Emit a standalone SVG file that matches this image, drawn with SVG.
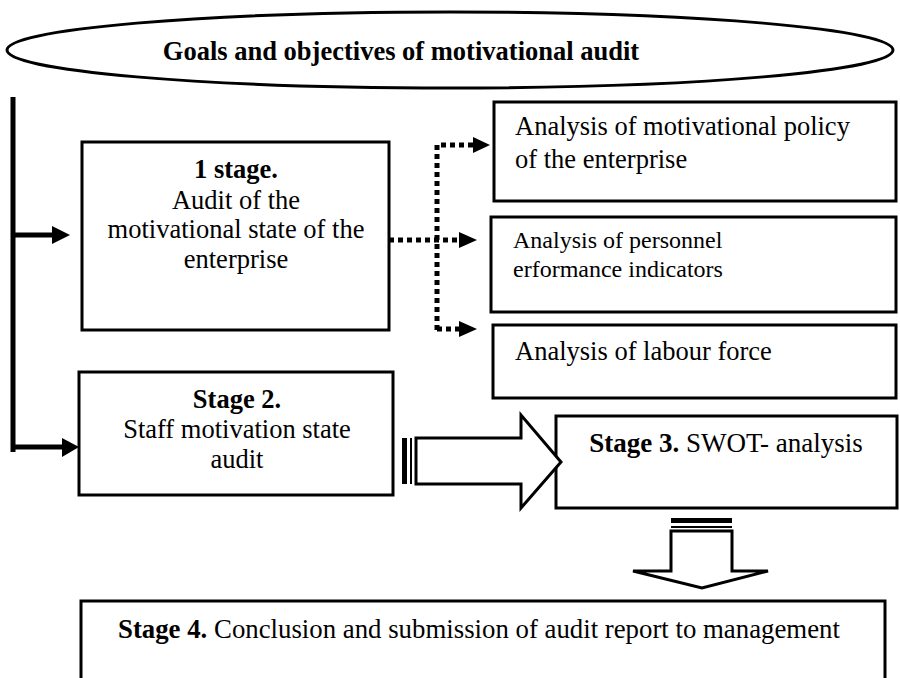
<svg xmlns="http://www.w3.org/2000/svg" width="900" height="678" viewBox="0 0 900 678">
<style>
text{font-family:"Liberation Serif","Times New Roman",serif;font-size:26.5px;fill:#000}
.b{font-weight:bold}
.box{fill:#fff;stroke:#000;stroke-width:3}
.solid{fill:none;stroke:#000;stroke-width:5}
.dot{fill:none;stroke:#000;stroke-width:5;stroke-dasharray:5 4}
.hd{fill:#000;stroke:none}
.blk{fill:#fff;stroke:#000;stroke-width:3;stroke-linejoin:miter}
</style>
<rect width="900" height="678" fill="#fff"/>
<g id="goals">
<ellipse cx="450" cy="50" rx="443" ry="38" fill="#fff" stroke="#000" stroke-width="3"/>
<text class="b" x="401" y="60" text-anchor="middle">Goals and objectives of motivational audit</text>
</g>
<g id="stage1">
<rect class="box" x="82" y="142" width="307" height="188"/>
<text text-anchor="middle" x="236"><tspan class="b" x="236" y="178">1 stage.</tspan><tspan x="236" y="209">Audit of the</tspan><tspan x="236" y="238">motivational state of the</tspan><tspan x="236" y="268">enterprise</tspan></text>
</g>
<g id="policy">
<rect class="box" x="494" y="102" width="402" height="99"/>
<text x="515" y="135">Analysis of motivational policy</text>
<text x="515" y="168">of the enterprise</text>
</g>
<g id="performance">
<rect class="box" x="491" y="217" width="405" height="95"/>
<text x="513" y="248" style="font-size:24px">Analysis of personnel</text>
<text x="513" y="277" style="font-size:24px">erformance indicators</text>
</g>
<g id="labour">
<rect class="box" x="493" y="325" width="403" height="73"/>
<text x="515" y="360">Analysis of labour force</text>
</g>
<g id="stage2">
<rect class="box" x="79" y="372" width="314" height="123"/>
<text text-anchor="middle"><tspan class="b" x="237" y="408">Stage 2.</tspan><tspan x="237" y="438">Staff motivation state</tspan><tspan x="237" y="468">audit</tspan></text>
</g>
<g id="stage3">
<rect class="box" x="556" y="416" width="341" height="92"/>
<text x="726" y="452" text-anchor="middle" style="font-size:27px"><tspan class="b">Stage 3.</tspan> SWOT- analysis</text>
</g>
<g id="stage4">
<rect class="box" x="81" y="601" width="804" height="100"/>
<text x="118" y="638" style="font-size:26.8px"><tspan class="b">Stage 4.</tspan> Conclusion and submission of audit report to management</text>
</g>
<g id="connectors">
<path class="solid" d="M13 97 V452"/>
<path class="solid" d="M13 235 H54"/>
<polygon class="hd" points="52,226 70,235 52,244"/>
<path class="solid" d="M13 447 H64"/>
<polygon class="hd" points="62,438 79,447 62,457"/>
<path class="dot" d="M389 240 H461"/>
<polygon class="hd" points="459,232 477,240 459,248"/>
<path class="dot" d="M437 330 V145 H475"/>
<polygon class="hd" points="473,137 490,145 473,153"/>
<path class="dot" d="M437 329 H461"/>
<polygon class="hd" points="459,321 477,329 459,337"/>
<g id="arrow23">
<rect x="402" y="438" width="5" height="46" fill="#000"/>
<rect x="410" y="438" width="2" height="46" fill="#000"/>
<polygon class="blk" points="416,438 521,438 521,415 561,462 521,508 521,484 416,484"/>
</g>
<g id="arrow34">
<rect x="671" y="518" width="61" height="5" fill="#000"/>
<rect x="671" y="526" width="61" height="2" fill="#000"/>
<polygon class="blk" points="671,531 732,531 732,571 768,571 702,588 633,571 671,571"/>
</g>
</g>
</svg>
